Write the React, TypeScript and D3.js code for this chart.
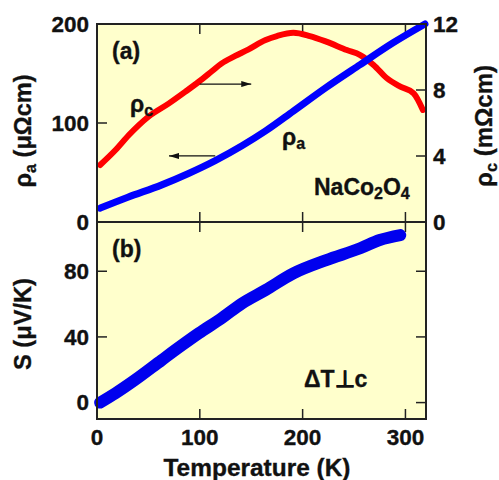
import React from 'react';
import * as d3 from 'd3';

// temperature (K) / rho_a (micro-ohm cm)
const rhoaT = [3, 30, 63, 89, 115, 141, 164, 191, 223, 256, 288, 319];
const rhoaV = [14, 25, 37.5, 49, 62, 77, 92, 112, 136, 159, 181, 200];

// temperature (K) / rho_c (milli-ohm cm)
const rhocT = [3, 18, 31, 50, 70, 86, 99, 112, 121, 134, 147, 164, 175, 191, 207, 223, 243, 256, 269, 282, 295, 308, 317];
const rhocV = [3.45, 4.36, 5.27, 6.38, 7.19, 7.9, 8.5, 9.15, 9.6, 10.05, 10.45, 11.03, 11.27, 11.47, 11.27, 10.93, 10.42, 10.12, 9.52, 8.71, 8.2, 7.8, 6.79];

// temperature (K) / thermopower S (microV/K)
const sT = [3, 18, 37, 63, 83, 99, 121, 141, 164, 191, 223, 256, 275, 295];
const sV = [0, 5.7, 13.8, 25.9, 35.1, 42.2, 51.3, 60.4, 68.6, 78.7, 86.8, 94, 99, 102];

const xTicks = [0, 100, 200, 300];
const aTicks = [0, 100, 200];
const cTicks = [0, 4, 8, 12];
const sTicks = [0, 40, 80];

// arrows: [T start, T end, value]
const arrowC = [100, 150, 8.36];
const arrowA = [115, 70, 66.7];

const FONT = '"Liberation Sans", Arial, Helvetica, sans-serif';
const TL = 10;

export default function App() {
  const x = d3.scaleLinear().domain([0, 320]).range([97, 426]);
  const yA = d3.scaleLinear().domain([0, 200]).range([222, 24]);
  const yC = d3.scaleLinear().domain([0, 12]).range([222, 24]);
  const yS = d3.scaleLinear().domain([-10, 110]).range([419, 222]);

  const [x0, x1] = x.range();
  const topY0 = 24, midY = 222, botY = 419;

  const lineA = d3.line<number>().x((d, i) => x(rhoaT[i])).y(d => yA(d)).curve(d3.curveMonotoneX);
  const lineC = d3.line<number>().x((d, i) => x(rhocT[i])).y(d => yC(d)).curve(d3.curveMonotoneX);
  const lineS = d3.line<number>().x((d, i) => x(sT[i])).y(d => yS(d)).curve(d3.curveMonotoneX);

  const tick = (k: string, x1_: number, y1_: number, x2_: number, y2_: number) => (
    <line key={k} x1={x1_} y1={y1_} x2={x2_} y2={y2_} stroke="#222" strokeWidth={1.5} />
  );

  return (
    <svg width={499} height={480} style={{ position: 'absolute', left: 0, top: 0 }} fontFamily={FONT} fontWeight="bold">
      <defs>
        <marker id="ah" viewBox="0 0 10 6" refX={10} refY={3} markerWidth={11} markerHeight={6} markerUnits="userSpaceOnUse" orient="auto">
          <path d="M0,0 L10,3 L0,6 Z" fill="#111" />
        </marker>
      </defs>
      <rect x={x0} y={topY0} width={x1 - x0} height={botY - topY0} fill="#ffffcc" />

      {/* ticks */}
      {xTicks.filter(t => t > 0).map(t => (
        <g key={'xt' + t}>
          {tick('a', x(t), topY0, x(t), topY0 + TL)}
          {tick('b', x(t), midY, x(t), midY - TL)}
          {tick('c', x(t), midY, x(t), midY + TL)}
          {tick('d', x(t), botY, x(t), botY - TL)}
        </g>
      ))}
      {aTicks.map(t => tick('at' + t, x0, yA(t), x0 + TL, yA(t)))}
      {cTicks.map(t => tick('ct' + t, x1, yC(t), x1 - TL, yC(t)))}
      {sTicks.map(t => (
        <g key={'st' + t}>
          {tick('l', x0, yS(t), x0 + TL, yS(t))}
          {tick('r', x1, yS(t), x1 - TL, yS(t))}
        </g>
      ))}

      {/* curves */}
      <path d={lineC(rhocV) || ''} fill="none" stroke="#ff0000" strokeWidth={6} strokeLinecap="round" strokeLinejoin="round" />
      <path d={lineA(rhoaV) || ''} fill="none" stroke="#0000ff" strokeWidth={7} strokeLinecap="round" strokeLinejoin="round" />
      <path d={lineS(sV) || ''} fill="none" stroke="#0000ee" strokeWidth={12} strokeLinecap="round" strokeLinejoin="round" />

      {/* frames */}
      <rect x={x0} y={topY0} width={x1 - x0} height={midY - topY0} fill="none" stroke="#222" strokeWidth={2} />
      <rect x={x0} y={midY} width={x1 - x0} height={botY - midY} fill="none" stroke="#222" strokeWidth={2} />

      {/* arrows */}
      <line x1={x(arrowC[0])} y1={yC(arrowC[2])} x2={x(arrowC[1])} y2={yC(arrowC[2])} stroke="#111" strokeWidth={1.2} markerEnd="url(#ah)" />
      <line x1={x(arrowA[0])} y1={yA(arrowA[2])} x2={x(arrowA[1])} y2={yA(arrowA[2])} stroke="#111" strokeWidth={1.2} markerEnd="url(#ah)" />

      <g fill="#111" stroke="#111" strokeWidth={0.35}>
        {/* tick labels */}
        <g fontSize={22.5}>
          {xTicks.map(t => (
            <text key={'xl' + t} x={x(t)} y={445} textAnchor="middle">{t}</text>
          ))}
          {aTicks.map(t => (
            <text key={'al' + t} x={89} y={yA(t) + 7.8} textAnchor="end">{t}</text>
          ))}
          {cTicks.map(t => (
            <text key={'cl' + t} x={433} y={yC(t) + 7.8} textAnchor="start">{t}</text>
          ))}
          {sTicks.map(t => (
            <text key={'sl' + t} x={89} y={yS(t) + 7.8} textAnchor="end">{t}</text>
          ))}
        </g>

        {/* annotations */}
        <g fontSize={23}>
          <text x={112} y={59}>(a)</text>
          <text x={112} y={257}>(b)</text>
          <text x={130} y={112}>ρ<tspan fontSize={16} dy={4}>c</tspan></text>
          <text x={282} y={145}>ρ<tspan fontSize={16} dy={4}>a</tspan></text>
          <text x={314} y={195}>NaCo<tspan fontSize={16} dy={4}>2</tspan><tspan dy={-4}>O</tspan><tspan fontSize={16} dy={4}>4</tspan></text>
          <text x={304} y={387}>ΔT⊥c</text>
        </g>

        {/* axis titles */}
        <g fontSize={23.5}>
          <text x={257} y={476} textAnchor="middle" textLength={187} lengthAdjust="spacingAndGlyphs">Temperature (K)</text>
          <text transform="translate(31,131) rotate(-90)" textAnchor="middle" textLength={113} lengthAdjust="spacingAndGlyphs">ρ<tspan fontSize={16} dy={5}>a</tspan><tspan dy={-5}> (μΩcm)</tspan></text>
          <text transform="translate(492,126) rotate(-90)" textAnchor="middle" textLength={122} lengthAdjust="spacingAndGlyphs">ρ<tspan fontSize={16} dy={5}>c</tspan><tspan dy={-5}> (mΩcm)</tspan></text>
          <text transform="translate(31,324) rotate(-90)" textAnchor="middle" textLength={92} lengthAdjust="spacingAndGlyphs">S (μV/K)</text>
        </g>
      </g>
    </svg>
  );
}
